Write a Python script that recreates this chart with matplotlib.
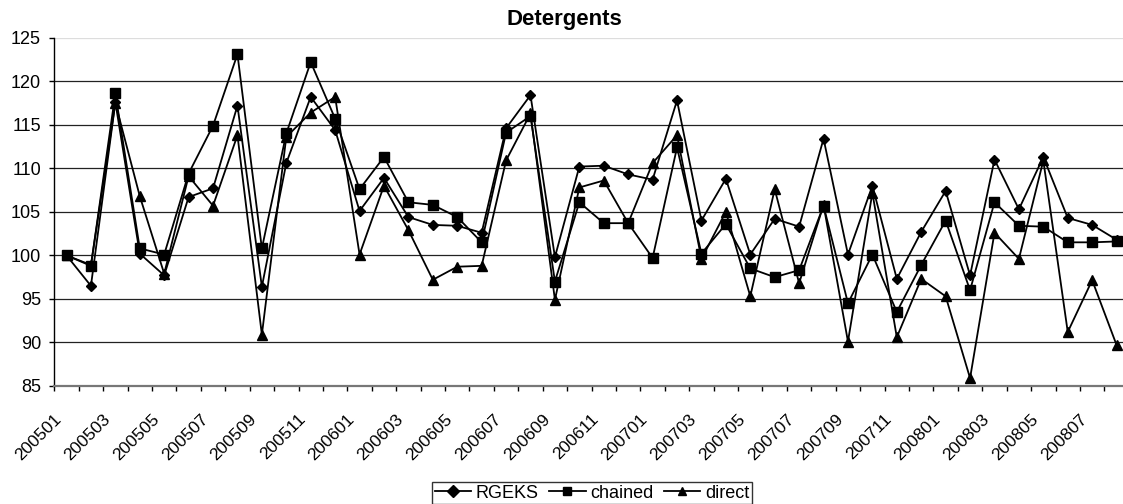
import matplotlib
matplotlib.use("Agg")
import matplotlib.pyplot as plt
from matplotlib.transforms import ScaledTranslation

periods = [
    "200501", "200502", "200503", "200504", "200505", "200506", "200507", "200508",
    "200509", "200510", "200511", "200512",
    "200601", "200602", "200603", "200604", "200605", "200606", "200607", "200608",
    "200609", "200610", "200611", "200612",
    "200701", "200702", "200703", "200704", "200705", "200706", "200707", "200708",
    "200709", "200710", "200711", "200712",
    "200801", "200802", "200803", "200804", "200805", "200806", "200807", "200808",
]

rgeks = [
    100.0, 96.5, 117.6, 100.2, 97.7, 106.7, 107.7, 117.2, 96.4, 110.6, 118.2, 114.4,
    105.1, 108.9, 104.4, 103.5, 103.4, 102.6, 114.6, 118.4, 99.8, 110.2, 110.3, 109.3,
    108.7, 117.8, 104.0, 108.8, 100.1, 104.2, 103.3, 113.4, 100.1, 108.0, 97.3, 102.7,
    107.4, 97.7, 111.0, 105.3, 111.3, 104.3, 103.5, 101.8,
]
chained = [
    100.0, 98.8, 118.6, 100.8, 100.1, 109.4, 114.9, 123.1, 100.8, 114.0, 122.2, 115.7,
    107.6, 111.3, 106.1, 105.8, 104.4, 101.5, 114.1, 116.0, 97.0, 106.1, 103.7, 103.7,
    99.7, 112.4, 100.2, 103.6, 98.5, 97.5, 98.3, 105.7, 94.5, 100.1, 93.5, 98.9,
    104.0, 96.0, 106.1, 103.4, 103.3, 101.5, 101.5, 101.6,
]
direct = [
    100.0, 98.9, 117.5, 106.8, 97.9, 109.1, 105.7, 113.8, 90.9, 113.6, 116.4, 118.2,
    100.1, 108.0, 102.9, 97.2, 98.7, 98.8, 110.9, 116.3, 94.9, 107.8, 108.6, 103.7,
    110.6, 113.8, 99.6, 105.0, 95.3, 107.6, 96.8, 105.8, 90.1, 107.2, 90.6, 97.3,
    95.3, 85.9, 102.6, 99.6, 110.9, 91.2, 97.15, 89.7,
]
y_ticks = [85, 90, 95, 100, 105, 110, 115, 120, 125]

FONT = ["Liberation Sans", "DejaVu Sans"]
plt.rcParams["font.family"] = FONT

W, H = 1123, 504
fig = plt.figure(figsize=(W / 100, H / 100), dpi=100)
fig.patch.set_facecolor("white")

left_px, right_px, top_px, bot_px = 54.3, 1128.8, 37.7, 386.0
ax = fig.add_axes([left_px / W, 1 - bot_px / H, (right_px - left_px) / W, (bot_px - top_px) / H])

x = list(range(len(periods)))
ax.set_xlim(-0.5, len(periods) - 0.5)
ax.set_ylim(85, 125)

for yv in y_ticks[1:-1]:
    ax.axhline(yv, color="#222222", lw=0.9, zorder=1)
ax.axhline(125, color="#dddddd", lw=0.9, zorder=1)

ax.plot(x, rgeks, color="black", lw=1.3, marker="D", ms=5.2, mfc="black", mec="black",
        label="RGEKS", zorder=3)
ax.plot(x, chained, color="black", lw=1.3, marker="s", ms=7, mfc="black", mec="black",
        label="chained", zorder=4)
ax.plot(x, direct, color="black", lw=1.3, marker="^", ms=7.5, mfc="black", mec="black",
        label="direct", zorder=5)

for s in ["top", "right"]:
    ax.spines[s].set_visible(False)
ax.spines["left"].set_color("black")
ax.spines["left"].set_linewidth(1.0)
ax.spines["bottom"].set_color("#777777")
ax.spines["bottom"].set_linewidth(1.6)

ax.set_yticks(y_ticks)
ax.set_yticklabels([str(v) for v in y_ticks])
ax.tick_params(axis="y", direction="out", length=3.6, width=1.0, pad=6, labelsize=13,
               colors="black")

# category boundary ticks (major), labels at every other category (minor)
ax.set_xticks([i - 0.5 for i in range(len(periods) + 1)])
ax.set_xticklabels([])
ax.tick_params(axis="x", which="major", direction="out", length=3.6, width=1.0,
               color="black")
lab_pos = x[::2]
ax.set_xticks(lab_pos, minor=True)
ax.set_xticklabels([periods[i] for i in lab_pos], minor=True, rotation=45,
                   ha="right", va="center", rotation_mode="anchor", fontsize=12.5)
ax.tick_params(axis="x", which="minor", length=0, pad=22)
off = ScaledTranslation(-7.5 / 100, 0, fig.dpi_scale_trans)
for lab in ax.get_xticklabels(minor=True):
    lab.set_transform(lab.get_transform() + off)

fig.text(564 / W, 1 - 20 / H, "Detergents", ha="center", va="center",
         fontsize=16, fontweight="bold")

leg = fig.legend(loc="center", bbox_to_anchor=(592 / W, 1 - 493 / H), ncol=3,
                 frameon=True, fancybox=False, edgecolor="black", fontsize=13,
                 handlelength=2.0, handletextpad=0.25, columnspacing=0.6,
                 borderpad=0.15, borderaxespad=0)
leg.get_frame().set_linewidth(1.0)
for h in leg.legend_handles:
    h.set_markersize(6)

fig.savefig("out.png", dpi=100, facecolor="white")
